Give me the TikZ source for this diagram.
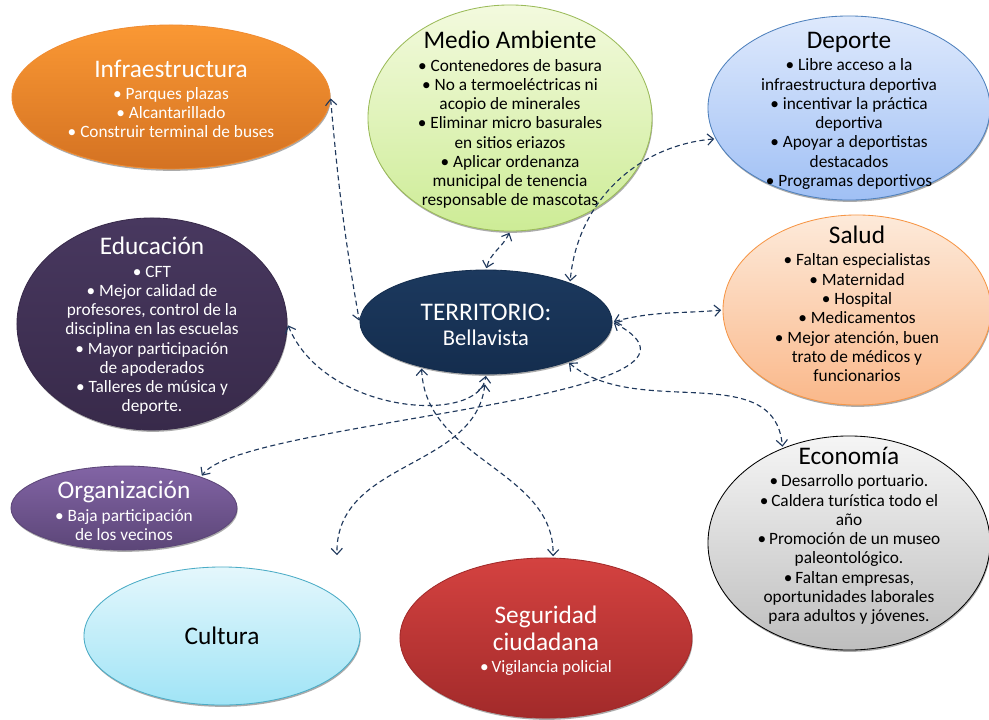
\documentclass[tikz,border=0pt]{standalone}
\usepackage{fontspec}
\setmainfont{Carlito}
\usetikzlibrary{shapes.geometric,arrows.meta,calc,shadows}

\definecolor{conblue}{RGB}{31,56,92}
\definecolor{inftop}{RGB}{250,152,52}
\definecolor{infbot}{RGB}{212,114,34}
\definecolor{infline}{RGB}{240,140,50}
\definecolor{medtop}{RGB}{243,250,222}
\definecolor{medbot}{RGB}{205,236,150}
\definecolor{medline}{RGB}{155,187,89}
\definecolor{deptop}{RGB}{222,233,252}
\definecolor{depbot}{RGB}{160,192,245}
\definecolor{depline}{RGB}{79,129,189}
\definecolor{edutop}{RGB}{72,56,95}
\definecolor{edubot}{RGB}{56,42,74}
\definecolor{tertop}{RGB}{28,57,94}
\definecolor{terbot}{RGB}{20,45,78}
\definecolor{saltop}{RGB}{253,234,218}
\definecolor{salbot}{RGB}{250,184,138}
\definecolor{salline}{RGB}{247,150,70}
\definecolor{ecotop}{RGB}{245,245,245}
\definecolor{ecobot}{RGB}{190,190,190}
\definecolor{orgtop}{RGB}{130,100,165}
\definecolor{orgbot}{RGB}{92,70,120}
\definecolor{cultop}{RGB}{228,247,252}
\definecolor{culbot}{RGB}{160,228,246}
\definecolor{culline}{RGB}{75,172,198}
\definecolor{segtop}{RGB}{212,66,64}
\definecolor{segbot}{RGB}{162,42,42}

\newcommand{\boxtitle}[1]{{\fontsize{18}{20}\selectfont #1}}

\begin{document}
\begin{tikzpicture}[
  x=0.025cm, y=-0.025cm,
  font={\fontsize{12.3}{13.7}\selectfont\lineskiplimit=-20pt},
  ell/.style={ellipse, inner sep=0pt, line width=0.6pt,
              drop shadow={shadow xshift=0.5pt, shadow yshift=-1.3pt, fill=black!55, opacity=0.6}},
  txtw/.style={align=center, inner sep=0pt, text=white},
  txtb/.style={align=center, inner sep=0pt, text=black},
  con/.style={conblue, line width=0.8pt, dash pattern=on 3.6pt off 2.4pt,
              {Straight Barb[length=1.5mm,width=2.8mm]}-{Straight Barb[length=1.5mm,width=2.8mm]},
              shorten <=1pt, shorten >=1pt}
]
\path[use as bounding box, fill=white] (0,0) rectangle (989,719);
% ----- ellipses -----
\node[ell, minimum width=7.95cm, minimum height=3.6cm, top color=inftop, bottom color=infbot, draw=infline] (inf) at (171,97) {};
\node[ell, minimum width=7.1cm, minimum height=5.65cm, top color=medtop, bottom color=medbot, draw=medline] (med) at (510,118) {};
\node[ell, minimum width=7.05cm, minimum height=4.6cm, top color=deptop, bottom color=depbot, draw=depline] (dep) at (849,108) {};
\node[ell, minimum width=6.75cm, minimum height=5.3cm, top color=edutop, bottom color=edubot, draw=edubot] (edu) at (152,324) {};
\node[ell, minimum width=6.3cm, minimum height=2.6cm, top color=tertop, bottom color=terbot, draw=terbot] (ter) at (486,322) {};
\node[ell, minimum width=6.7cm, minimum height=4.75cm, top color=saltop, bottom color=salbot, draw=salline] (sal) at (857,310) {};
\node[ell, minimum width=7.05cm, minimum height=5.35cm, top color=ecotop, bottom color=ecobot, draw=black] (eco) at (849,543) {};
\node[ell, minimum width=5.65cm, minimum height=2.1cm, top color=orgtop, bottom color=orgbot, draw=orgbot] (org) at (124,508) {};
\node[ell, minimum width=6.9cm, minimum height=3.45cm, top color=cultop, bottom color=culbot, draw=culline] (cul) at (222,636) {};
\node[ell, minimum width=7.3cm, minimum height=4.0cm, top color=segtop, bottom color=segbot, draw=segbot] (seg) at (546,638) {};
% ----- texts -----
\node[txtw] (inf-t) at (171,99) {\boxtitle{Infraestructura}\\[2pt]\textbullet\ Parques plazas\\\textbullet\ Alcantarillado\\\textbullet\ Construir terminal de buses};
\node[txtb] (med-t) at (510,120) {\boxtitle{Medio Ambiente}\\[2pt]\textbullet\ Contenedores de basura\\\textbullet\ No a termoeléctricas ni\\acopio de minerales\\\textbullet\ Eliminar micro basurales\\en sitios eriazos\\\textbullet\ Aplicar ordenanza\\municipal de tenencia\\responsable de mascotas};
\node[txtb] (dep-t) at (849,111) {\boxtitle{Deporte}\\[2pt]\textbullet\ Libre acceso a la\\infraestructura deportiva\\\textbullet\ incentivar la práctica\\deportiva\\\textbullet\ Apoyar a deportistas\\destacados\\\textbullet\ Programas deportivos};
\node[txtw] (edu-t) at (152,326) {\boxtitle{Educación}\\[2pt]\textbullet\ CFT\\\textbullet\ Mejor calidad de\\profesores, control de la\\disciplina en las escuelas\\\textbullet\ Mayor participación\\de apoderados\\\textbullet\ Talleres de música y\\deporte.};
\node[txtw, font={\fontsize{16}{17.8}\selectfont\lineskiplimit=-20pt}] (ter-t) at (486,325) {\boxtitle{TERRITORIO:}\\Bellavista};
\node[txtb] (sal-t) at (857,304) {\boxtitle{Salud}\\[2pt]\textbullet\ Faltan especialistas\\\textbullet\ Maternidad\\\textbullet\ Hospital\\\textbullet\ Medicamentos\\\textbullet\ Mejor atención, buen\\trato de médicos y\\funcionarios};
\node[txtb] (eco-t) at (849,536) {\boxtitle{Economía}\\[2pt]\textbullet\,Desarrollo portuario.\\\textbullet\,Caldera turística todo el\\año\\\textbullet\,Promoción de un museo\\paleontológico.\\\textbullet\,Faltan empresas,\\oportunidades laborales\\para adultos y jóvenes.};
\node[txtw] (org-t) at (124,511) {\boxtitle{Organización}\\[2pt]\textbullet\ Baja participación\\de los vecinos};
\node[txtb] (cul-t) at (222,636) {\boxtitle{Cultura}};
\node[txtw] (seg-t) at (546,641) {\boxtitle{Seguridad}\\[5.5pt]\boxtitle{ciudadana}\\[2pt]\textbullet\,Vigilancia policial};
\coordinate (cul-in) at ([shift={(115,-10)}]cul.north);
% ----- dashed two-way links to TERRITORIO -----
\draw[con] (inf.east) to[out=-85, in=100] (ter.west);
\draw[con] (med.south) to[out=-115, in=75] (ter.north);
\draw[con] (dep.193) to[out=185, in=85] (ter.25);
\draw[con] (ter.east) to[out=15, in=185] (sal.west);
\draw[con] (edu.east) .. controls (325,415) and (480,425) .. (ter.south);
\draw[con] (ter.east) .. controls (760,400) and (240,420) .. (org.22);
\draw[con] (ter.-26) to[out=-40, in=95] (eco.125);
\draw[con, shorten <=7pt] (ter.south) .. controls (475,470) and (335,460) .. (cul-in);
\draw[con] (ter.215) .. controls (425,460) and (555,470) .. (seg.85);
\end{tikzpicture}
\end{document}
